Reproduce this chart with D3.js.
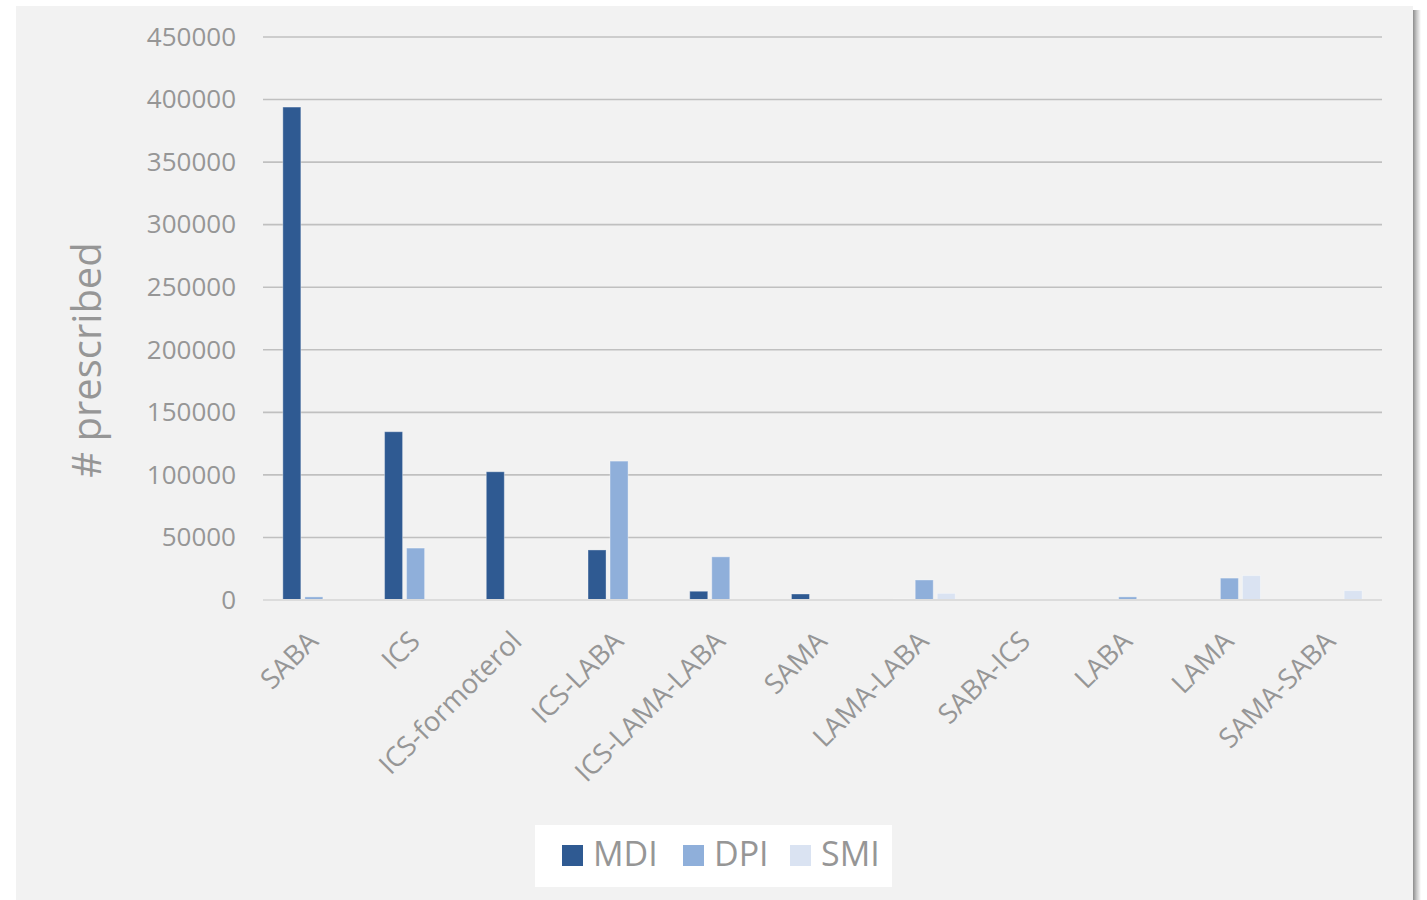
<!DOCTYPE html>
<html>
<head>
<meta charset="utf-8">
<script src="https://cdn.jsdelivr.net/npm/d3@7"></script>
<style>
  html, body { margin: 0; padding: 0; background: #ffffff; }
  svg { display: block; }
  text { font-family: "Open Sans", "Noto Sans", sans-serif; }
</style>
</head>
<body>
<svg id="chart" width="1427" height="900"></svg>
<script>
// Inhaler prescriptions by drug class and device type
const categories = ["SABA", "ICS", "ICS-formoterol", "ICS-LABA", "ICS-LAMA-LABA",
                    "SAMA", "LAMA-LABA", "SABA-ICS", "LABA", "LAMA", "SAMA-SABA"];
const seriesNames = ["MDI", "DPI", "SMI"];
const mdiValues = [394000, 134500, 102500, 40000, 7000, 4800, 800, 500, 0, 0, 0];
const dpiValues = [2500, 41500, 0, 111000, 34500, 0, 16000, 0, 2500, 17500, 0];
const smiValues = [0, 0, 0, 0, 0, 0, 5300, 0, 200, 19500, 7500];
const yTicks = [0, 50000, 100000, 150000, 200000, 250000, 300000, 350000, 400000, 450000];
const yTitle = "# prescribed";

const colors = { MDI: "#2f5a92", DPI: "#8fafda", SMI: "#dae3f2" };
const textColor = "#969696";

const svg = d3.select("#chart");

// panel shadow on the right edge
const defs = svg.append("defs");
const grad = defs.append("linearGradient").attr("id", "shadowGrad")
  .attr("x1", "0%").attr("x2", "100%").attr("y1", "0%").attr("y2", "0%");
grad.append("stop").attr("offset", "0%").attr("stop-color", "#000").attr("stop-opacity", 0.45);
grad.append("stop").attr("offset", "45%").attr("stop-color", "#000").attr("stop-opacity", 0.22);
grad.append("stop").attr("offset", "100%").attr("stop-color", "#000").attr("stop-opacity", 0);
svg.append("rect").attr("x", 1413).attr("y", 10).attr("width", 8).attr("height", 890)
  .attr("fill", "url(#shadowGrad)");

// chart panel
svg.append("rect").attr("x", 16).attr("y", 6).attr("width", 1397).attr("height", 894)
  .attr("fill", "#f2f2f2");

const plotLeft = 263, plotRight = 1382, plotTop = 37, plotBottom = 600;

const y = d3.scaleLinear().domain([0, 450000]).range([plotBottom, plotTop]);
const x0 = d3.scaleBand().domain(categories).range([plotLeft, plotRight])
  .paddingInner(0.39).paddingOuter(0.195);
const x1 = d3.scaleBand().domain(seriesNames).range([0, x0.bandwidth()])
  .paddingInner(0.182).paddingOuter(0);

// gridlines
svg.append("g").selectAll("line").data(yTicks.filter(d => d > 0)).join("line")
  .attr("x1", plotLeft).attr("x2", plotRight)
  .attr("y1", d => y(d)).attr("y2", d => y(d))
  .attr("stroke", "#c0c0c0").attr("stroke-width", 1.6);

// y tick labels
const yAxis = d3.axisLeft(y).tickValues(yTicks).tickSize(0).tickPadding(0)
  .tickFormat(d3.format("d"));
const yg = svg.append("g").attr("transform", `translate(236,0)`).call(yAxis);
yg.select(".domain").remove();
yg.selectAll("text")
  .attr("fill", textColor).attr("font-size", 26)
  .style("font-family", "'Open Sans', sans-serif");

// y axis title
svg.append("text")
  .attr("transform", "translate(101,360) rotate(-90)")
  .attr("text-anchor", "middle")
  .attr("font-size", 40)
  .attr("fill", textColor)
  .text(yTitle);

// bars
const rows = categories.map((c, i) => ({
  category: c,
  values: [
    { key: "MDI", value: mdiValues[i] },
    { key: "DPI", value: dpiValues[i] },
    { key: "SMI", value: smiValues[i] }
  ]
}));

const groups = svg.append("g").selectAll("g").data(rows).join("g")
  .attr("transform", d => `translate(${x0(d.category)},0)`);
groups.selectAll("rect").data(d => d.values.filter(v => v.value > 0)).join("rect")
  .attr("x", d => x1(d.key))
  .attr("y", d => y(d.value))
  .attr("width", x1.bandwidth())
  .attr("height", d => y(0) - y(d.value))
  .attr("fill", d => colors[d.key])
  .attr("stroke", "#ffffff").attr("stroke-opacity", 0.35).attr("stroke-width", 1);

// baseline
svg.append("line").attr("x1", plotLeft).attr("x2", plotRight)
  .attr("y1", y(0)).attr("y2", y(0))
  .attr("stroke", "#dcdcdc").attr("stroke-width", 2);

// x labels (rotated)
const xAxis = d3.axisBottom(x0).tickSize(0).tickPadding(0);
const xg = svg.append("g").attr("transform", `translate(0,${plotBottom})`).call(xAxis);
xg.select(".domain").remove();
xg.selectAll("text")
  .attr("fill", textColor).attr("font-size", 27.5)
  .style("font-family", "'Open Sans', sans-serif")
  .attr("text-anchor", "end")
  .attr("dy", null).attr("y", 0)
  .attr("transform", "translate(6,43) rotate(-45)");

// legend
const legend = svg.append("g");
legend.append("rect").attr("x", 535).attr("y", 825).attr("width", 357).attr("height", 62)
  .attr("fill", "#ffffff");
const legendX = { MDI: 562, DPI: 683, SMI: 790 };
seriesNames.forEach(k => {
  legend.append("rect").attr("x", legendX[k]).attr("y", 845).attr("width", 21).attr("height", 21)
    .attr("fill", colors[k]);
  legend.append("text").attr("x", legendX[k] + 31).attr("y", 866)
    .attr("font-size", 34).attr("fill", textColor).text(k);
});
</script>
</body>
</html>
